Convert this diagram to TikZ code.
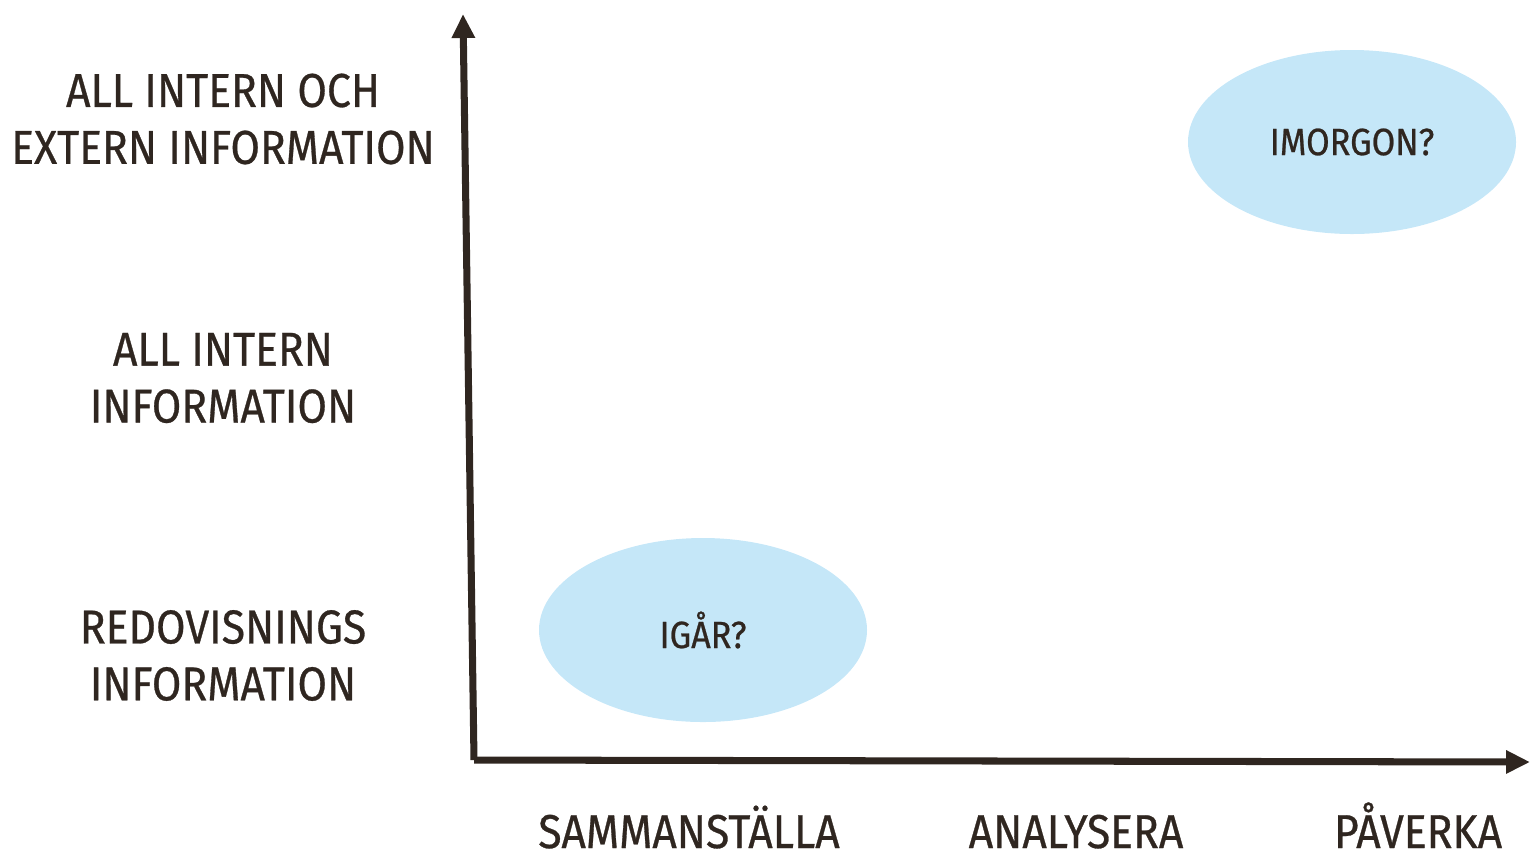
\documentclass[tikz,border=0pt]{standalone}
\usepackage{fontspec}
\setmainfont{Fira Sans}[FakeStretch=0.9, FakeBold=0.6]
\usetikzlibrary{arrows.meta,shapes.geometric}
\definecolor{axisbrown}{HTML}{2F2620}
\definecolor{paleblue}{HTML}{C5E7F8}
\tikzstyle{axis}=[line width=2pt, color=axisbrown, -{Triangle[length=0.24cm,width=0.22cm]}]
\tikzstyle{level}=[align=center, text=axisbrown, font=\fontsize{13.5}{16.2}\selectfont]
\tikzstyle{step_label}=[text=axisbrown, font=\fontsize{13.5}{16.2}\selectfont, anchor=base, inner sep=0pt]
\tikzstyle{blob}=[ellipse, fill=paleblue, minimum width=3.28cm, minimum height=1.84cm, text=axisbrown, font=\fontsize{10.8}{13}\selectfont]

\begin{document}
\begin{tikzpicture}
    \useasboundingbox (0,0) rectangle (15.31,8.53);

    \coordinate (O) at (4.74, 0.93);
    \coordinate (Ytop) at (4.63, 8.39);
    \coordinate (Xend) at (15.30, 0.91);

    \draw (O) -- (Ytop) [axis];
    \draw (O) -- (Xend) [axis];

    \node (extern) at (2.23, 7.34) [level] {ALL INTERN OCH\\EXTERN INFORMATION};
    \node (intern) at (2.23, 4.75) [level] {ALL INTERN\\INFORMATION};
    \node (redov)  at (2.23, 1.975) [level] {REDOVISNINGS\\INFORMATION};

    \node (samman)  at (6.89, 0.05) [step_label] {SAMMANSTÄLLA};
    \node (analys)  at (10.76, 0.05) [step_label] {ANALYSERA};
    \node (paverka) at (14.18, 0.05) [step_label] {PÅVERKA};

    \node (igar)    at (7.03, 2.23) [blob] {IGÅR?};
    \node (imorgon) at (13.52, 7.11) [blob] {IMORGON?};
\end{tikzpicture}
\end{document}
